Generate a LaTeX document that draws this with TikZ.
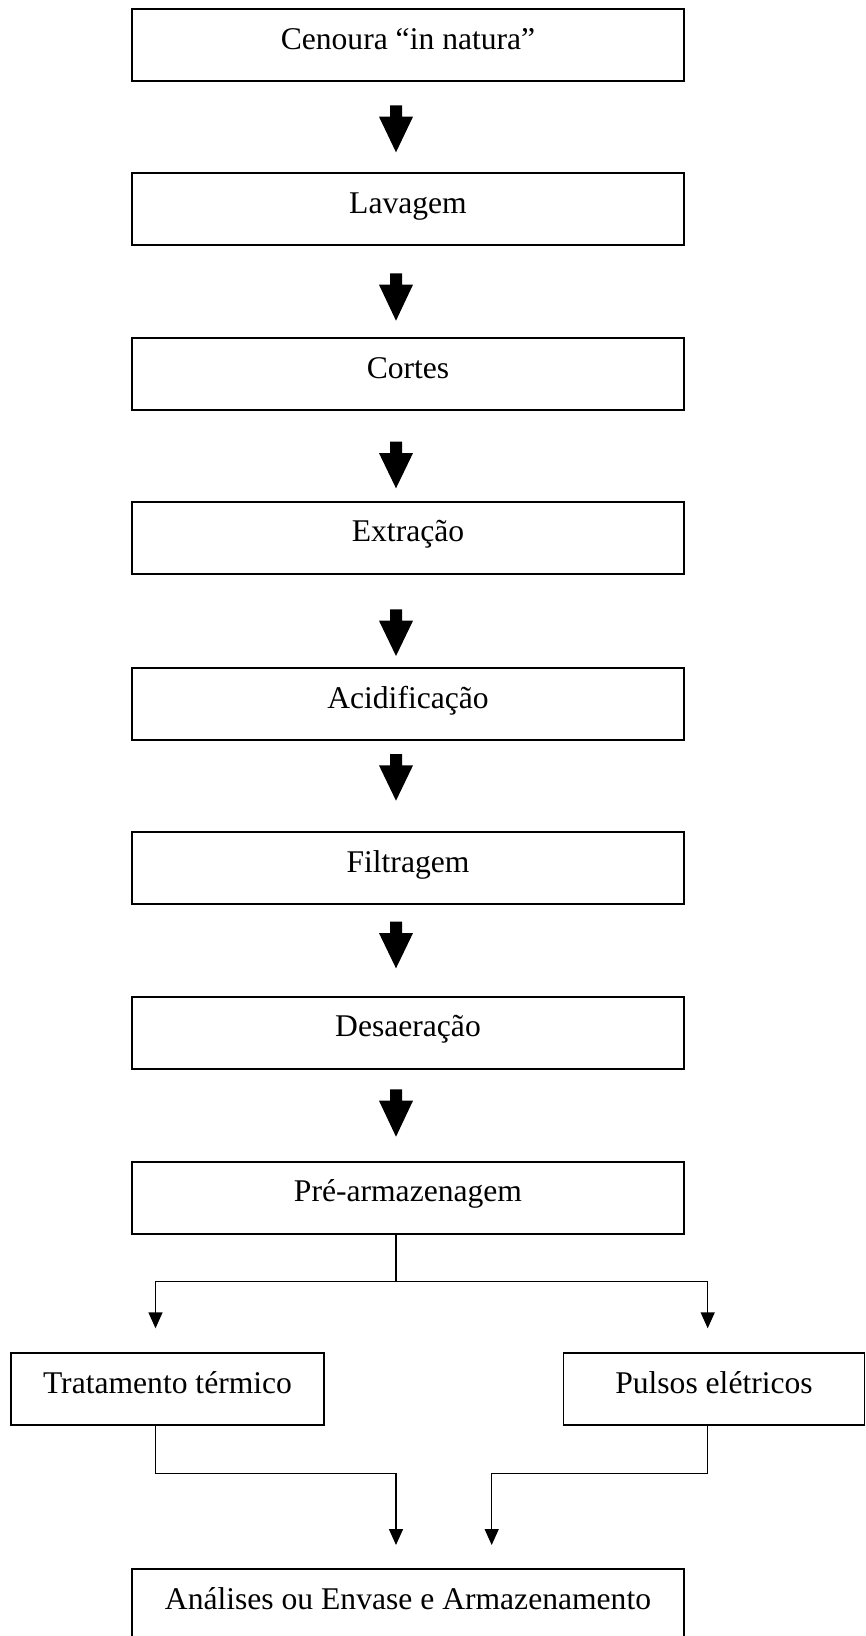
\documentclass[tikz,border=0pt]{standalone}
\usepackage{fontspec}
\setmainfont{Liberation Serif}
\usetikzlibrary{arrows.meta,calc}
\tikzset{
  stepbox/.style={draw, line width=1.8pt, inner sep=0pt, outer sep=0pt,
    minimum width=552.6pt, text height=40pt, text depth=32pt, anchor=north,
    font=\fontsize{31.6}{36}\selectfont},
  sidebox/.style={stepbox, minimum width=313pt},
  conn/.style={line width=1.4pt},
  connarrow/.style={conn, -{Triangle[width=14pt,length=16pt]}},
  fatfill/.style={fill=black},
}
\newcommand{\fatarr}[2]{%
  \fill[fatfill] ($(#1)+(-6,0)$) -- ($(#1)+(6,0)$) -- ($(#1)+(6,11.4)$) --
    ($(#1)+(17,11.4)$) -- (#2) -- ($(#1)+(-17,11.4)$) -- ($(#1)+(-6,11.4)$) -- cycle;}
\begin{document}
\begin{tikzpicture}[x=1pt,y=-1pt]
\useasboundingbox (0,0) rectangle (866,1636);
\clip (0,0) rectangle (866,1636);
% main boxes
\node[stepbox] (b1) at (408,9.3) {Cenoura “in natura”};
\node[stepbox] (b2) at (408,173.3) {Lavagem};
\node[stepbox] (b3) at (408,338.3) {Cortes};
\node[stepbox] (b4) at (408,501.7) {Extração};
\node[stepbox] (b5) at (408,668.3) {Acidificação};
\node[stepbox] (b6) at (408,832.3) {Filtragem};
\node[stepbox] (b7) at (408,996.7) {Desaeração};
\node[stepbox] (b8) at (408,1161.7) {Pré-armazenagem};
\node[sidebox] (tt) at (167.5,1353.3) {Tratamento térmico};
\node[sidebox, minimum width=301pt] (pe) at (714,1353.3) {Pulsos elétricos};
\node[stepbox] (fin) at (408,1569) {Análises ou Envase e Armazenamento};
% fat arrows
\coordinate (a1s) at (396,105.3);  \coordinate (a1e) at (396,152.3);
\coordinate (a2s) at (396,273.3);  \coordinate (a2e) at (396,320.7);
\coordinate (a3s) at (396,441.7);  \coordinate (a3e) at (396,488.3);
\coordinate (a4s) at (396,609.3);  \coordinate (a4e) at (396,656);
\coordinate (a5s) at (396,754);    \coordinate (a5e) at (396,800.7);
\coordinate (a6s) at (396,921.7);  \coordinate (a6e) at (396,968.3);
\coordinate (a7s) at (396,1089.3); \coordinate (a7e) at (396,1136.7);
\fatarr{a1s}{a1e}
\fatarr{a2s}{a2e}
\fatarr{a3s}{a3e}
\fatarr{a4s}{a4e}
\fatarr{a5s}{a5e}
\fatarr{a6s}{a6e}
\fatarr{a7s}{a7e}
% split
\coordinate (split) at (396,1281.7);
\coordinate (lt) at (155.5,1328.3);
\coordinate (rt) at (707.7,1328.3);
\draw[conn] (b8.south -| split) -- (split);
\draw[connarrow] (split) -| (lt);
\draw[connarrow] (split) -| (rt);
% merge
\coordinate (lk) at (396,1473.3);   \coordinate (le) at (396,1545);
\coordinate (rk) at (491.7,1473.3); \coordinate (re) at (491.7,1545);
\draw[connarrow] (tt.south -| lt) |- (lk) -- (le);
\draw[connarrow] (pe.south -| rt) |- (rk) -- (re);
\end{tikzpicture}
\end{document}
